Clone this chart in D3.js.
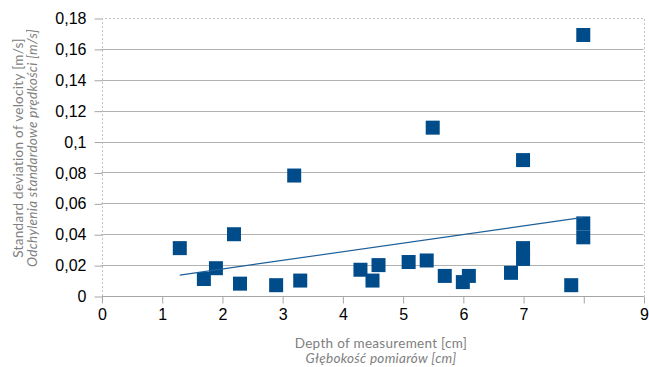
<!DOCTYPE html>
<html>
<head>
<meta charset="utf-8">
<script src="https://cdn.jsdelivr.net/npm/d3@7"></script>
<style>
  html, body { margin: 0; padding: 0; background: #fff; }
  svg { display: block; }
  .tick text { font-family: "Liberation Sans", Arial, sans-serif; font-size: 16px; fill: #000; }
  .title { font-family: Lato, "Open Sans", sans-serif; font-size: 13.5px; letter-spacing: 0.3px; fill: #808080; }
</style>
</head>
<body>
<svg id="chart" width="649" height="367"></svg>
<script>
// Depth of each measurement [cm]
const depth = [1.3, 1.7, 1.9, 2.2, 2.3, 2.9, 3.2, 3.3, 4.3, 4.5, 4.6, 5.1, 5.4, 5.5,
               5.7, 6.0, 6.1, 6.8, 7.0, 7.0, 7.0, 7.8, 8.0, 8.0, 8.0];
// Standard deviation of velocity [m/s]
const stdDev = [0.031, 0.011, 0.018, 0.040, 0.008, 0.007, 0.078, 0.010, 0.017, 0.010,
                0.020, 0.022, 0.023, 0.109, 0.013, 0.009, 0.013, 0.015, 0.088, 0.031,
                0.024, 0.007, 0.169, 0.047, 0.038];

const xTicks = [0, 1, 2, 3, 4, 5, 6, 7, 8, 9];
const xTickLabels = ["0", "1", "2", "3", "4", "5", "6", "7", "", "9"];
const yTicks = [0, 0.02, 0.04, 0.06, 0.08, 0.1, 0.12, 0.14, 0.16, 0.18];
const yTickLabels = ["0", "0,02", "0,04", "0,06", "0,08", "0,1", "0,12", "0,14", "0,16", "0,18"];

const xTitle = ["Depth of measurement [cm]", "Głębokość pomiarów [cm]"];
const yTitle = ["Standard deviation of velocity [m/s]", "Odchylenia standardowe prędkości [m/s]"];

const svg = d3.select("#chart");
const plotLeft = 101.5, plotRight = 643.5, plotTop = 18, plotBottom = 296;

const x = d3.scaleLinear().domain([0, 9]).range([plotLeft, plotRight]);
const y = d3.scaleLinear().domain([0, 0.18]).range([plotBottom, plotTop]);

// horizontal gridlines
svg.append("g")
  .selectAll("line")
  .data(yTicks.filter(v => v > 0 && v < 0.18))
  .join("line")
  .attr("x1", plotLeft).attr("x2", plotRight)
  .attr("y1", d => Math.round(y(d)) + 0.5).attr("y2", d => Math.round(y(d)) + 0.5)
  .attr("stroke", "#b3b3b3").attr("stroke-width", 1);

// plot area frame (dotted)
const fl = Math.round(plotLeft) + 0.5, fr = Math.round(plotRight) + 0.5;
svg.append("path")
  .attr("d", `M${fl},${plotBottom} V${plotTop + 0.5} H${fr} V${plotBottom}`)
  .attr("fill", "none").attr("stroke", "#c4c4c4").attr("stroke-width", 1)
  .attr("stroke-dasharray", "2,2");

// y axis
const yAxis = d3.axisLeft(y).tickValues(yTicks)
  .tickFormat((d, i) => yTickLabels[i]).tickSize(8).tickPadding(8);
const gy = svg.append("g").attr("transform", `translate(${fl},0.5)`).call(yAxis);
gy.select(".domain").remove();
gy.selectAll(".tick line").attr("stroke", "#a6a6a6");

// x axis
const xAxis = d3.axisBottom(x).tickValues(xTicks)
  .tickFormat((d, i) => xTickLabels[i]).tickSize(7).tickPadding(5);
const gx = svg.append("g").attr("transform", `translate(0.5,${plotBottom + 0.5})`).call(xAxis);
gx.select(".domain").attr("stroke", "#a6a6a6").attr("d", `M${plotLeft},0H${plotRight}`);
gx.selectAll(".tick line").attr("stroke", "#a6a6a6");

// linear trend line over the data range
const n = depth.length;
const mx = d3.mean(depth), my = d3.mean(stdDev);
let sxy = 0, sxx = 0;
for (let i = 0; i < n; i++) {
  sxy += (depth[i] - mx) * (stdDev[i] - my);
  sxx += (depth[i] - mx) * (depth[i] - mx);
}
const slope = sxy / sxx, intercept = my - slope * mx;
const [x0, x1] = d3.extent(depth);

// markers
const size = 14;
svg.append("g")
  .selectAll("rect")
  .data(depth.map((d, i) => [d, stdDev[i]]))
  .join("rect")
  .attr("x", d => x(d[0]) - size / 2)
  .attr("y", d => y(d[1]) - size / 2)
  .attr("width", size).attr("height", size)
  .attr("fill", "#004c8b");

svg.append("line")
  .attr("x1", x(x0)).attr("y1", y(intercept + slope * x0))
  .attr("x2", x(x1)).attr("y2", y(intercept + slope * x1))
  .attr("stroke", "#1d5f99").attr("stroke-width", 1.2);

// axis titles
const xt = svg.append("g").attr("class", "title").attr("text-anchor", "middle");
xt.append("text").attr("x", 381).attr("y", 347.5).text(xTitle[0]);
xt.append("text").attr("x", 381).attr("y", 362.5).attr("font-style", "italic").text(xTitle[1]);

const yt = svg.append("g").attr("class", "title").attr("text-anchor", "middle");
yt.append("text").attr("transform", "translate(22.5,148) rotate(-90)").text(yTitle[0]);
yt.append("text").attr("transform", "translate(37,148) rotate(-90)").attr("font-style", "italic").text(yTitle[1]);
</script>
</body>
</html>
